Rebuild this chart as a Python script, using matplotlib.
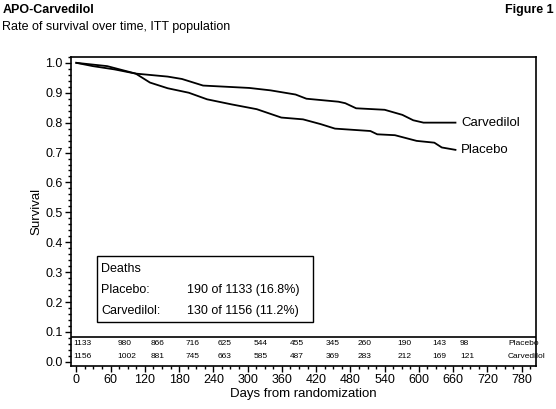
import matplotlib
matplotlib.use('Agg')
import matplotlib.pyplot as plt
from matplotlib.ticker import MultipleLocator
from matplotlib.patches import Rectangle

plt.rcParams['font.family'] = ['Liberation Sans Narrow', 'Liberation Sans', 'DejaVu Sans']

# survival curves (days, survival)
carv_days = [0, 54, 104, 160, 185, 222, 303, 340, 384, 403, 459, 471, 490, 540, 571, 590, 608, 664]
carv_surv = [1.0, 0.989, 0.964, 0.954, 0.946, 0.924, 0.916, 0.908, 0.894, 0.880, 0.870, 0.865, 0.848, 0.843, 0.826, 0.808, 0.800, 0.800]
plac_days = [0, 29, 67, 104, 129, 160, 197, 229, 272, 316, 359, 397, 428, 453, 515, 527, 558, 596, 627, 640, 664]
plac_surv = [1.0, 0.989, 0.978, 0.964, 0.934, 0.915, 0.900, 0.878, 0.861, 0.845, 0.817, 0.811, 0.795, 0.780, 0.772, 0.761, 0.758, 0.739, 0.733, 0.717, 0.709]

# numbers at risk
risk_placebo = ['1133', '980', '866', '716', '625', '544', '455', '345', '260', '190', '143', '98', 'Placebo']
risk_carv = ['1156', '1002', '881', '745', '663', '585', '487', '369', '283', '212', '169', '121', 'Carvedilol']
risk_x = [-6, 72, 130, 192, 247, 310, 374, 436, 492, 562, 623, 672, 756]

deaths_lines = ['Deaths', 'Placebo:', 'Carvedilol:']
deaths_vals = ['', '190 of 1133 (16.8%)', '130 of 1156 (11.2%)']

fig = plt.figure(figsize=(5.56, 4.09), dpi=100)
ax = fig.add_axes([0.128, 0.105, 0.836, 0.756])

ax.plot(carv_days, carv_surv, color='black', lw=1.3)
ax.plot(plac_days, plac_surv, color='black', lw=1.3)
ax.text(674, 0.80, 'Carvedilol', fontsize=9.5, va='center')
ax.text(674, 0.709, 'Placebo', fontsize=9.5, va='center')

ax.set_xlim(-9, 805)
ax.set_ylim(-0.014, 1.02)
ax.set_xticks(range(0, 781, 60))
ax.xaxis.set_minor_locator(MultipleLocator(15))
ax.set_yticks([i / 10 for i in range(11)])
ax.set_yticklabels([f'{i / 10:.1f}' for i in range(11)])
ax.yaxis.set_minor_locator(MultipleLocator(0.02))
ax.tick_params(which='both', direction='out', labelsize=9, width=1, pad=2)
ax.tick_params(which='minor', length=2)
ax.tick_params(which='major', length=4)
for s in ax.spines.values():
    s.set_linewidth(1.2)
ax.set_xlabel('Days from randomization', fontsize=9.5, labelpad=1)
ax.set_ylabel('Survival', fontsize=9.5, labelpad=2)

# at-risk table
ax.axhline(0.083, color='black', lw=1.2)
for x, p, c in zip(risk_x, risk_placebo, risk_carv):
    ax.text(x, 0.062, p, fontsize=6, ha='left', va='center')
    ax.text(x, 0.017, c, fontsize=6, ha='left', va='center')

# deaths box
ax.add_patch(Rectangle((37, 0.133), 378, 0.22, fill=False, lw=1, color='black'))
for i, (a, b) in enumerate(zip(deaths_lines, deaths_vals)):
    y = 0.31 - i * 0.07
    ax.text(44, y, a, fontsize=9, va='center')
    ax.text(193, y, b, fontsize=9, va='center')

fig.text(0.004, 0.975, 'APO-Carvedilol', fontsize=9, weight='bold', va='center')
fig.text(0.996, 0.975, 'Figure 1', fontsize=9, weight='bold', va='center', ha='right')
fig.text(0.004, 0.935, 'Rate of survival over time, ITT population', fontsize=9, va='center')

fig.savefig('out.png', dpi=100)
